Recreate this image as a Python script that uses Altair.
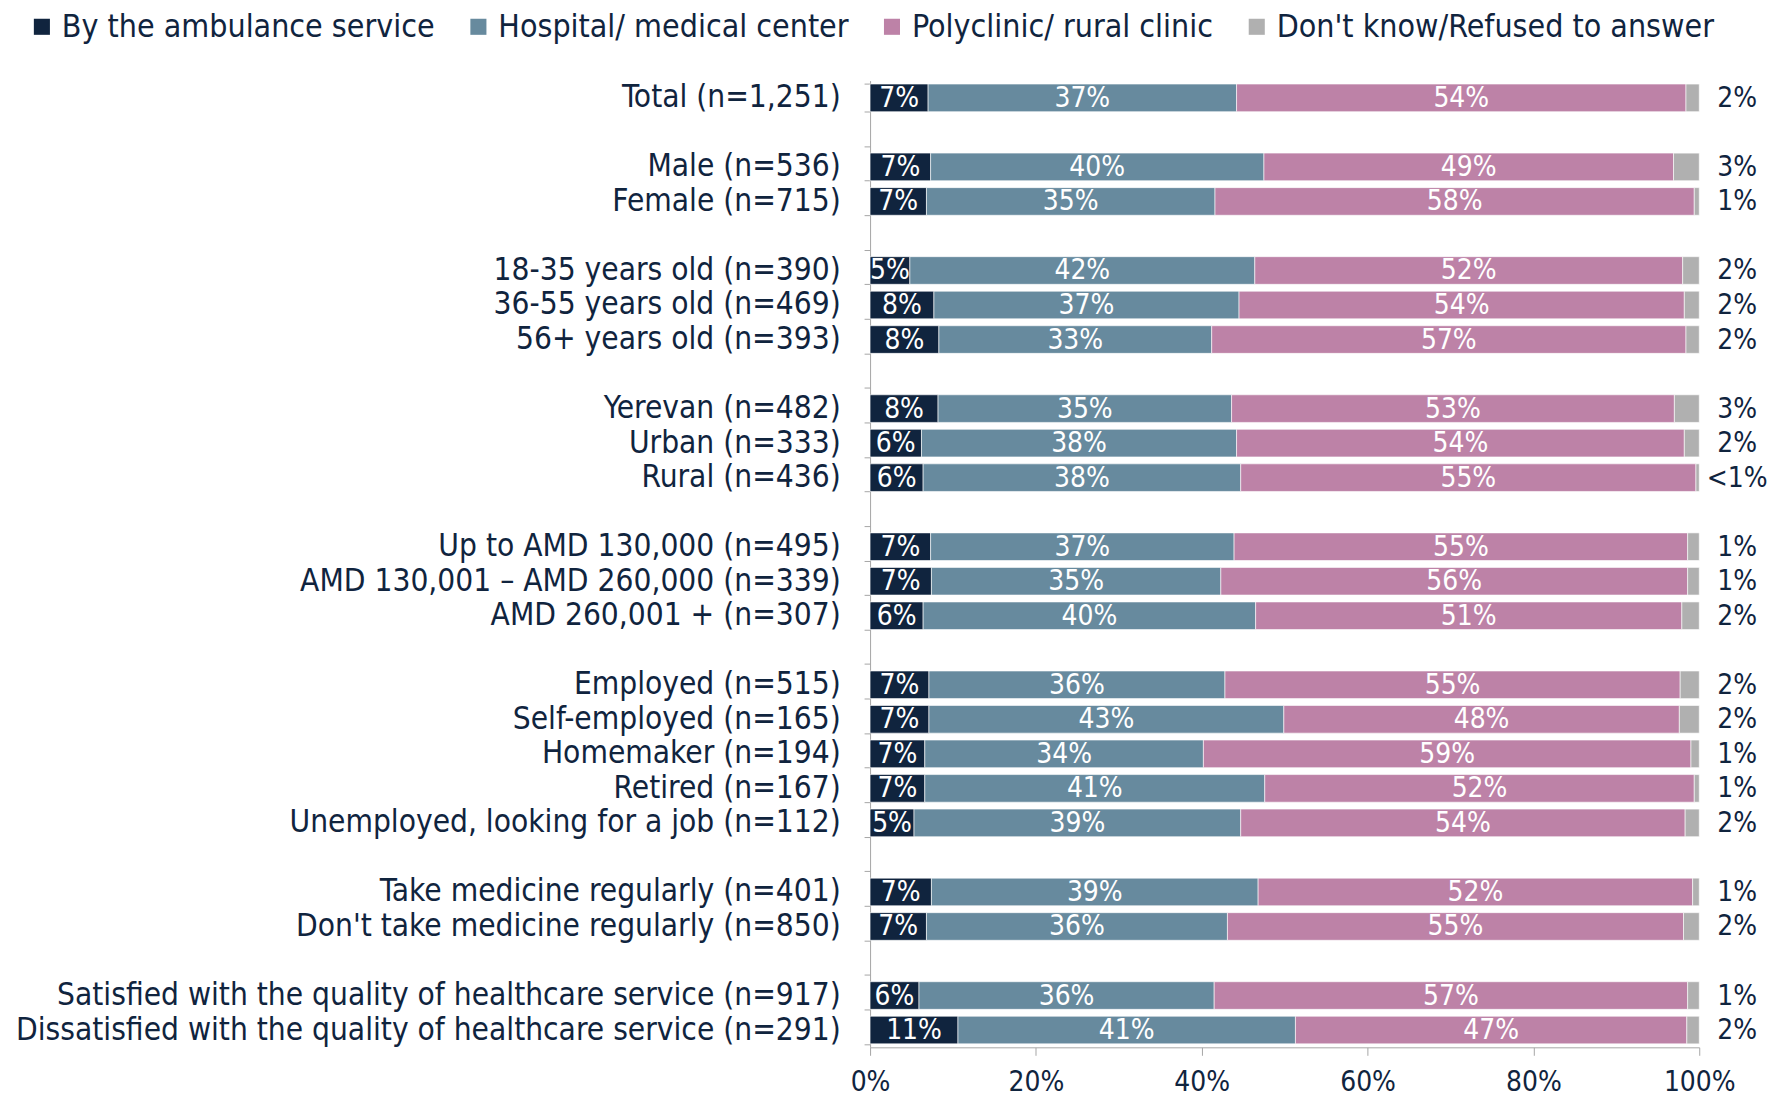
import altair as alt
import pandas as pd

categories = [
    "Total (n=1,251)",
    "Male (n=536)", "Female (n=715)",
    "18-35 years old (n=390)", "36-55 years old (n=469)", "56+ years old (n=393)",
    "Yerevan (n=482)", "Urban (n=333)", "Rural (n=436)",
    "Up to AMD 130,000 (n=495)", "AMD 130,001 – AMD 260,000 (n=339)", "AMD 260,001 + (n=307)",
    "Employed (n=515)", "Self-employed (n=165)", "Homemaker (n=194)", "Retired (n=167)",
    "Unemployed, looking for a job (n=112)",
    "Take medicine regularly (n=401)", "Don't take medicine regularly (n=850)",
    "Satisfied with the quality of healthcare service (n=917)",
    "Dissatisfied with the quality of healthcare service (n=291)",
]
group_sizes = [1, 2, 3, 3, 3, 5, 2, 2]

ambulance = [7.0, 7.3, 6.8, 4.8, 7.7, 8.3, 8.2, 6.2, 6.4, 7.3, 7.4, 6.4, 7.1, 7.1, 6.6, 6.6, 5.3, 7.4, 6.8, 5.9, 10.6]
hospital = [37.2, 40.2, 34.8, 41.6, 36.8, 32.9, 35.4, 38.0, 38.3, 36.6, 34.9, 40.1, 35.7, 42.8, 33.6, 41.0, 39.4, 39.4, 36.3, 35.6, 40.7]
polyclinic = [54.2, 49.4, 57.8, 51.6, 53.7, 57.2, 53.4, 54.0, 54.9, 54.7, 56.3, 51.4, 54.9, 47.7, 58.8, 51.8, 53.6, 52.4, 55.0, 57.1, 47.2]
dont_know = [1.6, 3.1, 0.6, 2.0, 1.8, 1.6, 3.0, 1.8, 0.4, 1.4, 1.4, 2.1, 2.3, 2.4, 1.0, 0.6, 1.7, 0.8, 1.9, 1.4, 1.5]

series = ["By the ambulance service", "Hospital/ medical center",
          "Polyclinic/ rural clinic", "Don't know/Refused to answer"]
colors = ["#10243e", "#678a9e", "#bd82a7", "#b0b0b0"]
navy = "#10243e"
grey_line = "#a6a6a6"
font = "DejaVu Sans Condensed"

# blank gap rows between groups (named with spaces so their labels are empty)
slots = []
i = 0
for g, n in enumerate(group_sizes):
    if g > 0:
        slots.append(" " * g)
    slots.extend(categories[i:i + n])
    i += n

rows = []
for ci, cat in enumerate(categories):
    vals = [ambulance[ci], hospital[ci], polyclinic[ci], dont_know[ci]]
    start = 0.0
    for si, s in enumerate(series):
        v = vals[si]
        lab = "<1%" if v < 0.5 else f"{round(v)}%"
        rows.append({"cat": cat, "series": s, "idx": si, "x0": start,
                     "x1": start + v, "mid": start + v / 2, "label": lab})
        start += v
df = pd.DataFrame(rows)

xscale = alt.Scale(domain=[0, 100], nice=False)
yscale = alt.Scale(domain=slots, paddingInner=0.2, paddingOuter=0.1)
xaxis = alt.Axis(title=None, values=[0, 20, 40, 60, 80, 100], format="d",
                 labelExpr="datum.label + '%'", labelFontSize=28, labelColor=navy,
                 labelFont=font, tickSize=8, tickColor=grey_line,
                 domainColor=grey_line, grid=False, labelPadding=13, labelFlush=False)
yaxis = alt.Axis(title=None, labelFontSize=31.5, labelColor=navy, labelFont=font, labelLimit=2000,
                 labelPadding=24, tickSize=6, tickBand="extent", tickColor=grey_line,
                 domainColor=grey_line, grid=False)

base = alt.Chart(df)

bars = base.mark_bar(stroke="white", strokeWidth=0.6).encode(
    x=alt.X("x0:Q", scale=xscale, axis=xaxis),
    x2="x1:Q",
    y=alt.Y("cat:N", scale=yscale, axis=yaxis),
    color=alt.Color("series:N", scale=alt.Scale(domain=series, range=colors),
                    legend=alt.Legend(title=None, orient="none", legendX=-847, legendY=-70,
                                      direction="horizontal", columns=4, symbolType="square",
                                      symbolSize=260, symbolStrokeWidth=0, labelFontSize=32,
                                      labelColor=navy, labelFont=font, columnPadding=27,
                                      labelOffset=4, labelLimit=1000)),
)

inner = base.transform_filter("datum.idx < 3").mark_text(
    color="white", fontSize=28, font=font, baseline="middle", align="center", dy=1
).encode(x=alt.X("mid:Q", scale=xscale, axis=xaxis), y=alt.Y("cat:N", scale=yscale, axis=yaxis),
         text="label:N")

outer = base.transform_filter("datum.idx == 3").mark_text(
    color=navy, fontSize=28, font=font, baseline="middle", align="center", dx=38, dy=1
).encode(x=alt.X("x1:Q", scale=xscale, axis=xaxis), y=alt.Y("cat:N", scale=yscale, axis=yaxis),
         text="label:N")

chart = alt.layer(bars, inner, outer).properties(
    width=832, height=970,
    padding={"left": 7, "top": 1, "right": 5, "bottom": 0},
).configure(font=font, view=alt.ViewConfig(stroke=None))

chart.save("out.html", embed_options={"renderer": "svg", "actions": False})
